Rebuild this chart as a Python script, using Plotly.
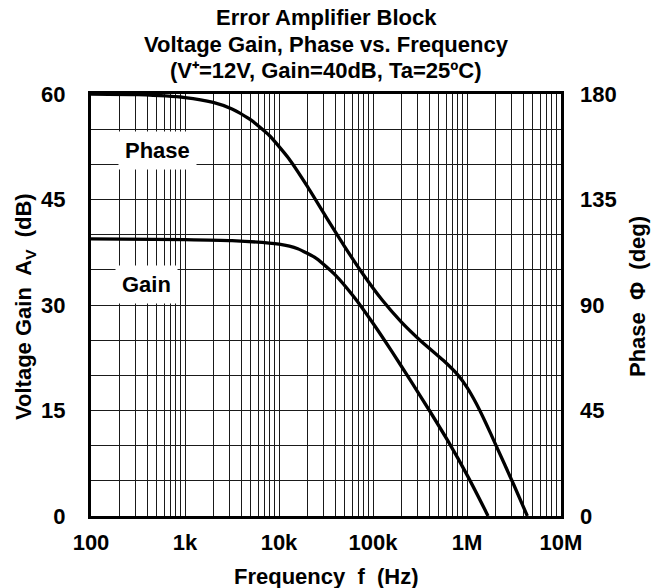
import plotly.graph_objects as go

# ---------------- data ----------------
gain_freq = [100, 1.0e3, 3.162e3, 10.0e3, 15.85e3, 25.12e3, 39.81e3, 63.1e3, 100e3,
             158.5e3, 251.2e3, 398.1e3, 631e3, 1.0e6, 1.585e6, 1.675e6]
gain_db = [39.4, 39.3, 39.15, 38.65, 38.0, 36.6, 34.25, 31.1, 27.4,
           23.4, 19.25, 15.0, 10.6, 5.85, 0.65, 0.0]

phase_freq = [100, 316.2, 1.0e3, 1.995e3, 3.162e3, 5.012e3, 7.943e3, 12.59e3, 19.95e3,
              31.62e3, 50.12e3, 79.43e3, 125.9e3, 199.5e3, 316.2e3, 562.3e3, 794.3e3,
              1.0e6, 1.259e6, 1.585e6, 1.995e6, 3.162e6, 4.385e6]
phase_deg = [180, 179.75, 178.5, 176.4, 173.6, 169.0, 162.2, 152.7, 140.7,
             127.6, 114.8, 102.8, 92.0, 82.8, 75.0, 66.3, 60.3,
             54.9, 47.9, 39.7, 30.9, 13.1, 0.0]

x_tickvals = [1e2, 1e3, 1e4, 1e5, 1e6, 1e7]
x_ticktext = ["100", "1k", "10k", "100k", "1M", "10M"]
gain_ticks = [0, 15, 30, 45, 60]
phase_ticks = [0, 45, 90, 135, 180]

title_lines = [
    "Error Amplifier Block",
    "Voltage Gain, Phase vs. Frequency",
    "(V\u207a=12V, Gain=40dB, Ta=25\u00baC)",
]

# ---------------- layout constants ----------------
W, H = 667, 588
L, R, T, B = 91, 561, 94, 516
FONT = "Liberation Sans, Arial, sans-serif"
FS = 22

def px(x):
    return (x - L) / (R - L)

def py(y):
    return (B - y) / (B - T)

fnt = dict(family=FONT, size=FS, color="black", weight="bold")

fig = go.Figure()
fig.add_trace(go.Scatter(x=gain_freq, y=gain_db, mode="lines",
                         line=dict(color="black", width=3.3, shape="spline", smoothing=0.5),
                         yaxis="y", showlegend=False, hoverinfo="skip"))
fig.add_trace(go.Scatter(x=phase_freq, y=phase_deg, mode="lines",
                         line=dict(color="black", width=3.3, shape="spline", smoothing=0.5),
                         yaxis="y2", showlegend=False, hoverinfo="skip"))

GC = "#1a1a1a"
fig.update_layout(
    width=W, height=H,
    margin=dict(l=L, r=W - R, t=T, b=H - B, pad=0),
    paper_bgcolor="white", plot_bgcolor="white",
    font=fnt,
    xaxis=dict(type="log", range=[2, 7], tickvals=x_tickvals, ticktext=x_ticktext,
               showgrid=True, gridcolor=GC, gridwidth=1,
               minor=dict(dtick="D1", showgrid=True, gridcolor=GC, gridwidth=1, ticks=""),
               showline=True, mirror=True, linecolor="black", linewidth=3,
               ticks="", ticklabelstandoff=5, zeroline=False, tickfont=fnt),
    yaxis=dict(range=[0, 60], tickvals=gain_ticks, showgrid=True, gridcolor=GC, gridwidth=1,
               minor=dict(dtick=5, showgrid=True, gridcolor=GC, gridwidth=1, ticks=""),
               showline=True, mirror=True, linecolor="black", linewidth=3,
               ticks="", ticklabelstandoff=18, zeroline=False, tickfont=fnt),
    yaxis2=dict(range=[0, 180], tickvals=phase_ticks, overlaying="y", side="right",
                showgrid=False, showline=False, ticks="", ticklabelstandoff=18,
                zeroline=False, tickfont=fnt),
)

ann = []
for text, yc in zip(title_lines, [18, 44, 71]):
    ann.append(dict(text=text, x=px((L + R) / 2), y=py(yc), xref="paper", yref="paper",
                    xanchor="center", yanchor="middle", showarrow=False, font=fnt))
ann.append(dict(text="Frequency  f  (Hz)", x=px((L + R) / 2), y=py(576), xref="paper", yref="paper",
                xanchor="center", yanchor="middle", showarrow=False, font=fnt))
ann.append(dict(text="Voltage Gain  A<sub>V</sub>  (dB)", x=px(25), y=py(307), xref="paper", yref="paper",
                xanchor="center", yanchor="middle", textangle=-90, showarrow=False, font=fnt))
ann.append(dict(text="Phase  \u03a6  (deg)", x=px(637), y=py(297), xref="paper", yref="paper",
                xanchor="center", yanchor="middle", textangle=-90, showarrow=False, font=fnt))
ann.append(dict(text="Phase", x=px(157), y=py(150), xref="paper", yref="paper",
                xanchor="center", yanchor="middle", showarrow=False,
                bgcolor="white", borderpad=6, font=fnt))
ann.append(dict(text="Gain", x=px(146), y=py(284), xref="paper", yref="paper",
                xanchor="center", yanchor="middle", showarrow=False,
                bgcolor="white", borderpad=6, font=fnt))
fig.update_layout(annotations=ann)

fig.write_html("out.html")
